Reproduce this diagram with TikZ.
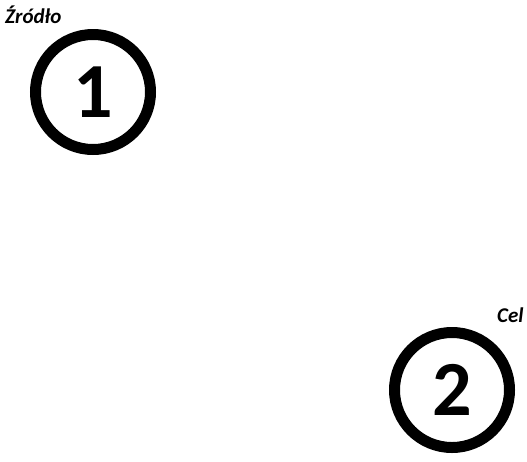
\documentclass[tikz,border=0pt]{standalone}
\usepackage{fontspec}
\setmainfont{Carlito}
\usetikzlibrary{positioning}

\begin{document}
\begin{tikzpicture}[x=1pt,y=-1pt]
\tikzstyle{every node}=[inner sep=0pt]
\tikzstyle{vertex}=[circle, draw, line width=11pt, minimum size=115pt, font=\fontsize{78}{78}\selectfont\bfseries]
\tikzstyle{tag}=[anchor=base west, font=\fontsize{21}{21}\selectfont\bfseries\itshape]
\useasboundingbox (0,0) rectangle (527,461);
\draw (93,92) node (v1) [vertex] {1};
\draw (452,390) node (v2) [vertex] {2};
\node (zrodlo) [tag] at (5,23) {Źródło};
\node (cel) [tag] at (497,322) {Cel};
\end{tikzpicture}
\end{document}
